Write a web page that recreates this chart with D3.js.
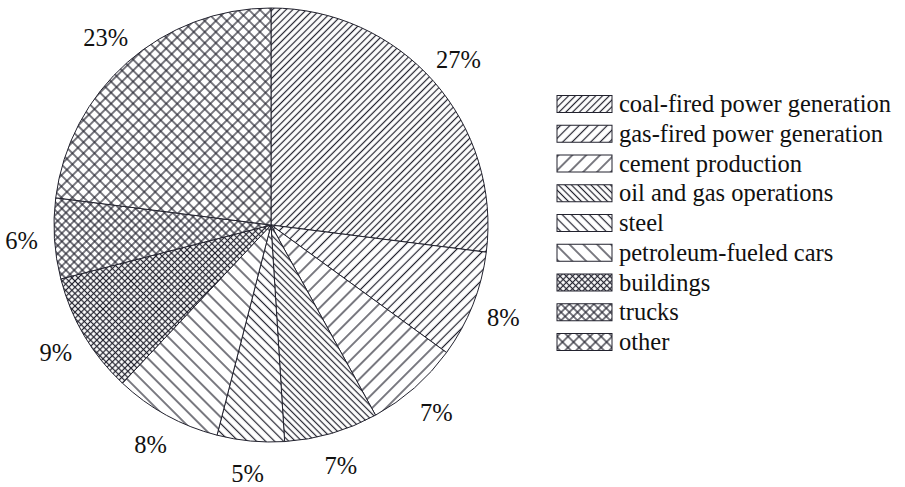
<!DOCTYPE html>
<html>
<head>
<meta charset="utf-8">
<script src="https://cdn.jsdelivr.net/npm/d3@7"></script>
<style>
  html, body { margin: 0; padding: 0; background: #fff; }
  svg { display: block; }
</style>
</head>
<body>
<svg id="chart" width="905" height="487"></svg>
<script>
// Emission sources, clockwise from 12 o'clock
const categories = [
  "coal-fired power generation",
  "gas-fired power generation",
  "cement production",
  "oil and gas operations",
  "steel",
  "petroleum-fueled cars",
  "buildings",
  "trucks",
  "other"
];
const shares = [27, 8, 7, 7, 5, 8, 9, 6, 23];
const shareLabels = ["27%", "8%", "7%", "7%", "5%", "8%", "9%", "6%", "23%"];

// Hatch style per category: direction and line spacing
const hatchStyles = [
  { kind: "fwd",   gap: 4.8 },
  { kind: "fwd",   gap: 6.6 },
  { kind: "fwd",   gap: 9.8 },
  { kind: "back",  gap: 4.6 },
  { kind: "back",  gap: 6.4 },
  { kind: "back",  gap: 9.8 },
  { kind: "cross", gap: 4.4 },
  { kind: "cross", gap: 5.8 },
  { kind: "cross", gap: 7.8 }
];
const ink = "#22222e";
const serif = "'Liberation Serif', 'DejaVu Serif', 'Times New Roman', Times, serif";

const svg = d3.select("#chart");
const defs = svg.append("defs");

hatchStyles.forEach((h, i) => {
  const p = defs.append("pattern")
    .attr("id", "hatch" + i)
    .attr("patternUnits", "userSpaceOnUse")
    .attr("width", h.gap)
    .attr("height", h.gap)
    .attr("patternTransform", `rotate(${h.kind === "back" ? -45 : 45})`);
  p.append("rect").attr("width", h.gap).attr("height", h.gap).attr("fill", "#fff");
  p.append("line")
    .attr("x1", h.gap / 2).attr("x2", h.gap / 2)
    .attr("y1", -1).attr("y2", h.gap + 1)
    .attr("stroke", ink).attr("stroke-width", 1.2);
  if (h.kind === "cross") {
    p.append("line")
      .attr("y1", h.gap / 2).attr("y2", h.gap / 2)
      .attr("x1", -1).attr("x2", h.gap + 1)
      .attr("stroke", ink).attr("stroke-width", 1.2);
  }
});

const cx = 271, cy = 225, radius = 217, labelRadius = 250;

const pie = d3.pie().sort(null).value(d => d.v);
const arcs = pie(shares.map((v, i) => ({ v, i })));
const arc = d3.arc().innerRadius(0).outerRadius(radius);
const labelArc = d3.arc().innerRadius(labelRadius).outerRadius(labelRadius);

const g = svg.append("g").attr("transform", `translate(${cx},${cy})`);

g.selectAll("path.slice")
  .data(arcs)
  .join("path")
  .attr("class", "slice")
  .attr("d", arc)
  .attr("fill", d => `url(#hatch${d.data.i})`)
  .attr("stroke", ink)
  .attr("stroke-width", 1)
  .attr("stroke-linejoin", "round");

g.selectAll("text.pct")
  .data(arcs)
  .join("text")
  .attr("class", "pct")
  .attr("transform", d => `translate(${labelArc.centroid(d)})`)
  .attr("text-anchor", "middle")
  .attr("dy", "0.35em")
  .attr("font-family", serif)
  .attr("font-size", 24.5)
  .attr("fill", "#111")
  .text(d => shareLabels[d.data.i]);

// Legend
const legendY = d3.scaleLinear().domain([0, categories.length - 1]).range([104, 342]);
const legend = svg.append("g");
const rows = legend.selectAll("g.row")
  .data(categories)
  .join("g")
  .attr("class", "row")
  .attr("transform", (d, i) => `translate(557,${legendY(i)})`);

rows.append("rect")
  .attr("x", 0).attr("y", -8.5)
  .attr("width", 55).attr("height", 17)
  .attr("fill", (d, i) => `url(#hatch${i})`)
  .attr("stroke", ink)
  .attr("stroke-width", 1);

rows.append("text")
  .attr("x", 62)
  .attr("y", 0)
  .attr("dy", "0.33em")
  .attr("font-family", serif)
  .attr("font-size", 24.5)
  .attr("fill", "#111")
  .text(d => d);
</script>
</body>
</html>
